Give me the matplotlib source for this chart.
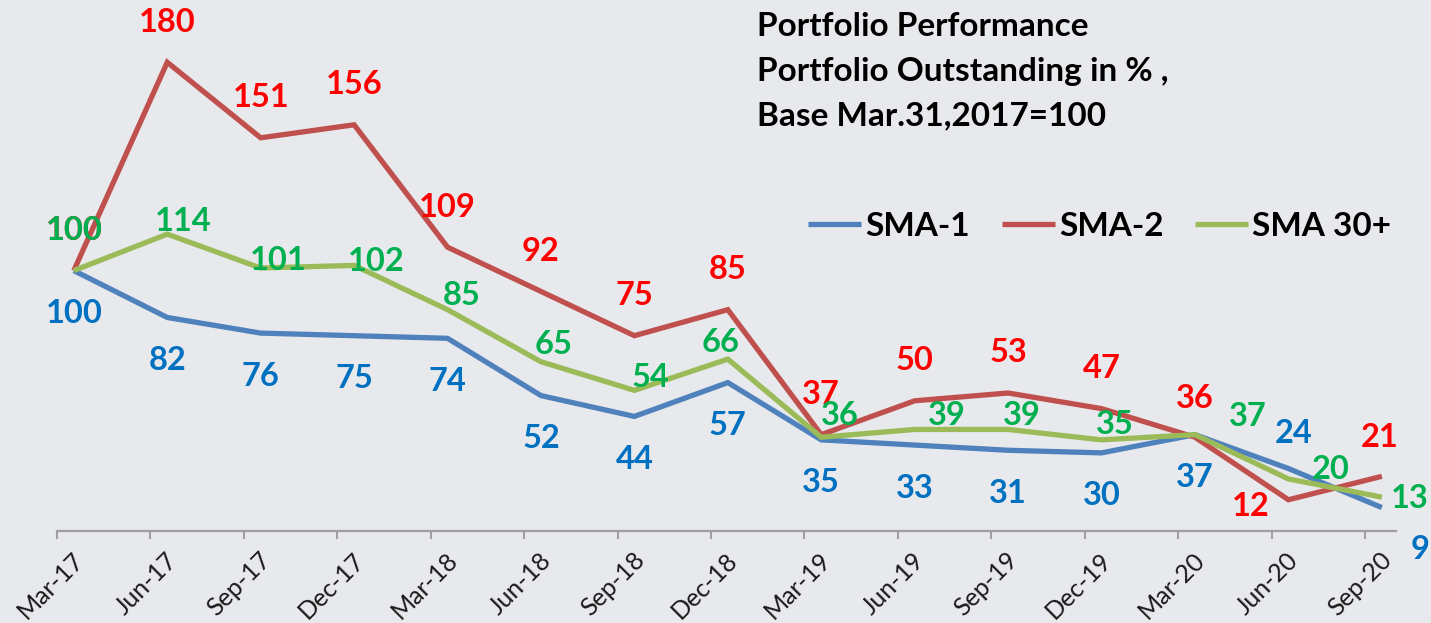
import numpy as np
import matplotlib
matplotlib.use("Agg")
import matplotlib.pyplot as plt
from matplotlib.transforms import ScaledTranslation

# ---- data ----
quarters = ["Mar-17", "Jun-17", "Sep-17", "Dec-17", "Mar-18", "Jun-18", "Sep-18",
            "Dec-18", "Mar-19", "Jun-19", "Sep-19", "Dec-19", "Mar-20", "Jun-20", "Sep-20"]
sma1 = [100, 82, 76, 75, 74, 52, 44, 57, 35, 33, 31, 30, 37, 24, 9]
sma2 = [100, 180, 151, 156, 109, 92, 75, 85, 37, 50, 53, 47, 36, 12, 21]
sma30 = [100, 114, 101, 102, 85, 65, 54, 66, 36, 39, 39, 35, 37, 20, 13]
series_names = ["SMA-1", "SMA-2", "SMA 30+"]

# ---- label offsets (screen pixels, +y = down) ----
off1 = [(0, 43)] * 13 + [(5, -35), (38, 42)]
off2 = [(0, -40)] * 13 + [(-38, 7), (-2, -39)]
off2[12] = (0, -39)
off30 = [(0, -40), (16, -13), (18, -7), (22, -4), (14, -14), (13, -17), (16, -13),
         (-7, -17), (19, -22), (32, -14), (14, -14), (13, -15), (53, -18), (42, -9), (28, 1)]

line_cols = ["#4F81BD", "#C0504D", "#9BBB59"]
lab_cols = ["#0070C0", "#FF0000", "#00B050"]

W, H = 1431, 623
fig = plt.figure(figsize=(W / 100, H / 100), dpi=100, facecolor="#E7E9EC")
left, right, axis_y = 57, 1396, 531
ax = fig.add_axes([left / W, 1 - axis_y / H, (right - left) / W, axis_y / H])
ax.set_facecolor("none")

n = len(quarters)
ticks = np.arange(n)
xpts = ticks + 0.18
ax.set_xlim(0, (right - left) / 93.43)
ax.set_ylim(0, axis_y / 2.604)

FONT = "Lato"
handles = []
for vals, lc, name in zip([sma1, sma2, sma30], line_cols, series_names):
    h, = ax.plot(xpts, vals, color=lc, lw=3.8, solid_joinstyle="miter", solid_capstyle="butt", label=name)
    handles.append(h)

for vals, offs, tc in zip([sma1, sma2, sma30], [off1, off2, off30], lab_cols):
    for x, v, (dx, dy) in zip(xpts, vals, offs):
        ax.annotate(str(v), (x, v), xytext=(dx, -dy), textcoords="offset pixels",
                    ha="center", va="center", color=tc, fontsize=23.5,
                    fontweight="bold", family=FONT, annotation_clip=False)

for s in ["top", "right", "left"]:
    ax.spines[s].set_visible(False)
ax.spines["bottom"].set_color("#A0A0A0")
ax.spines["bottom"].set_linewidth(1.6)
ax.set_yticks([])
ax.set_xticks(ticks)
ax.set_xticklabels(quarters, rotation=45, ha="right", va="center",
                   rotation_mode="anchor", fontsize=18, family=FONT, color="#1A1A1A")
ax.tick_params(axis="x", direction="out", length=6, width=1.5, color="#A0A0A0", pad=0)
offset = ScaledTranslation(23 / 100, -17 / 100, fig.dpi_scale_trans)
for lab in ax.get_xticklabels():
    lab.set_transform(lab.get_transform() + offset)

leg = ax.legend(handles=handles, loc="center left", bbox_to_anchor=(808 / W, 1 - 226 / H),
                bbox_transform=fig.transFigure, ncol=3, frameon=False,
                handlelength=1.6, handletextpad=0.12, columnspacing=0.95, borderpad=0, borderaxespad=0,
                prop={"family": FONT, "weight": "bold", "size": 24})
for t in leg.get_texts():
    t.set_color("black")

fig.text(757 / W, 1 - 27 / H, "Portfolio Performance", fontsize=24, fontweight="bold",
         family=FONT, va="center", ha="left")
fig.text(757 / W, 1 - 72 / H, "Portfolio Outstanding in % ,", fontsize=24, fontweight="bold",
         family=FONT, va="center", ha="left")
fig.text(757 / W, 1 - 116 / H, "Base Mar.31,2017=100", fontsize=24, fontweight="bold",
         family=FONT, va="center", ha="left")

fig.savefig("out.png", dpi=100, facecolor=fig.get_facecolor())
